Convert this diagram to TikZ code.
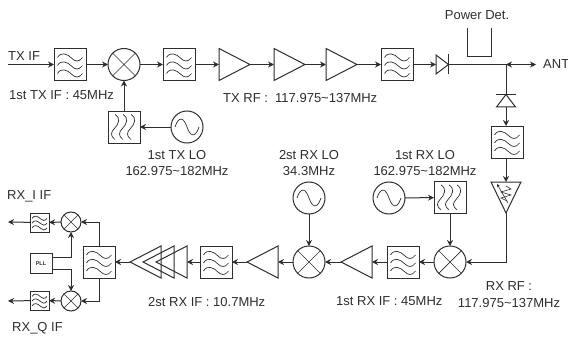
\documentclass[tikz,border=0pt]{standalone}
\usepackage{fontspec}
\setmainfont{Liberation Sans}
\usepackage{xcolor}
\usetikzlibrary{arrows.meta,shapes.geometric}
\definecolor{inkgray}{RGB}{45,45,45}
\newcommand{\wavepath}{
  \foreach \wy in {-8,0,8}
    \draw[line width=0.7pt] (-12.5,\wy+1) .. controls (-9,\wy-5) and (-3,\wy-3) .. (2,\wy+2)
      .. controls (5,\wy+5) and (9,\wy+6) .. (12.5,\wy+1);
}
\newcommand{\wavepathv}{
  \foreach \wy in {-8,0,8}
    \draw[line width=0.7pt] (\wy-1,-12.5) .. controls (\wy+5,-9) and (\wy+3,-3) .. (\wy-2,2)
      .. controls (\wy-5,5) and (\wy-6,9) .. (\wy-1,12.5);
}
\tikzset{
  lbl/.style={font=\fontsize{13}{16.5}\selectfont, text=inkgray, align=center, inner sep=0pt},
  filterbox/.style={rectangle, draw=inkgray, line width=1pt, minimum size=#1 pt, inner sep=0pt, outer sep=0pt,
    path picture={\begin{scope}[shift={(path picture bounding box.center)}, x=#1/32*1pt, y=-#1/32*1pt]\wavepath\end{scope}}},
  lofilter/.style={rectangle, draw=inkgray, line width=1pt, minimum size=32pt, inner sep=0pt, outer sep=0pt,
    path picture={\begin{scope}[shift={(path picture bounding box.center)}, x=1pt, y=-1pt]\wavepathv\end{scope}}},
  mixer/.style={circle, draw=inkgray, line width=1pt, minimum size=#1 pt, inner sep=0pt, outer sep=0pt,
    path picture={\draw[line width=0.7pt] (path picture bounding box.south west) -- (path picture bounding box.north east)
      (path picture bounding box.north west) -- (path picture bounding box.south east);}},
  mixer/.default=32,
  osc/.style={circle, draw=inkgray, line width=1pt, minimum size=32pt, inner sep=0pt, outer sep=0pt,
    path picture={\draw[shift={(path picture bounding box.center)}, x=1pt, y=1pt, line width=0.7pt]
      (-12,0) .. controls (-8,12) and (-3,9) .. (0,0) .. controls (3,-9) and (8,-12) .. (12,0);}},
  amp/.style={isosceles triangle, isosceles triangle stretches, draw=inkgray, line width=1pt, shape border rotate=#1,
    minimum width=32pt, minimum height=31pt, inner sep=0pt, outer sep=0pt},
  amp/.default=0,
  diode/.style={isosceles triangle, isosceles triangle stretches, draw=inkgray, line width=1pt, shape border rotate=#1,
    minimum width=19pt, minimum height=12.5pt, inner sep=0pt, outer sep=0pt},
  pllbox/.style={rectangle, draw=inkgray, line width=1pt, minimum width=22pt, minimum height=19.5pt, inner sep=0pt, outer sep=0pt,
    font=\fontsize{5.5}{6}\selectfont\bfseries, text=inkgray},
  sig/.style={draw=inkgray, line width=1pt, -{Stealth[length=6pt,width=6pt]}},
  wire/.style={draw=inkgray, line width=1pt},
}

\begin{document}
\begin{tikzpicture}[x=1pt, y=-1pt]
\useasboundingbox (0,0) rectangle (568,337);

\node[lbl, anchor=west] (txif) at (8, 56) {TX IF};
\coordinate (txin) at (8, 64.5);
\node[filterbox=32] (txfa) at (70, 64.5) {};
\node[mixer] (txmix) at (124, 64.5) {};
\node[filterbox=32] (txfb) at (179, 64.5) {};
\node[amp, anchor=lower side] (txampa) at (219, 64.5) {};
\node[amp, anchor=lower side] (txampb) at (274, 64.5) {};
\node[amp, anchor=lower side] (txampc) at (326, 64.5) {};
\node[filterbox=32] (txfc) at (397, 64.5) {};
\node[diode=0, anchor=lower side] (txdio) at (436, 64.5) {};
\coordinate (jct) at (506, 64.5);
\node[lbl, anchor=west] (ant) at (543, 64.5) {ANT};
\node[lofilter] (txlof) at (124, 127) {};
\node[osc] (txosc) at (187, 127) {};

\draw[sig] (txin) -- (txfa);
\draw[sig] (txfa) -- (txmix);
\draw[sig] (txmix) -- (txfb);
\draw[sig] (txfb) -- (txampa.lower side);
\draw[sig] (txampa.apex) -- (txampb.lower side);
\draw[sig] (txampb.apex) -- (txampc.lower side);
\draw[sig] (txampc.apex) -- (txfc);
\draw[sig] (txfc) -- (txdio.lower side);
\draw[wire] (txdio.apex) ++(0,-10) -- ++(0,20);
\draw[wire] (txdio.apex) -- (jct);
\draw[sig, {Stealth[length=6pt,width=6pt]}-{Stealth[length=6pt,width=6pt]}, shorten >=7pt] (jct) -- (ant);
\draw[sig] (txosc) -- (txlof);
\draw[sig] (txlof) -- (txmix);

\node[lbl, anchor=west] (txiflbl) at (9, 95) {1st TX IF : 45MHz};
\node[lbl, anchor=west] (txrflbl) at (223, 98) {TX RF :\ \ 117.975\textasciitilde137MHz};
\node[lbl] (txlolbl) at (177, 163) {1st TX LO\\162.975\textasciitilde182MHz};

\node[lbl] (pdetlbl) at (477, 15) {Power Det.};
\draw[wire] (467, 28) |- (491, 57) -- (491, 28);

\node[diode=90, anchor=lower side] (rxdio) at (506, 107) {};
\node[filterbox=32] (rxfa) at (507, 142) {};
\node[amp=270, anchor=lower side, minimum width=30pt] (rxatt) at (506, 182) {};
\node[mixer] (rxmixa) at (450, 262) {};
\node[lofilter] (rxlof) at (450, 197.5) {};
\node[osc] (rxosca) at (389, 198) {};
\node[filterbox=32] (rxfb) at (403, 262) {};
\node[amp=180, anchor=lower side] (rxampa) at (372, 262) {};
\node[mixer] (rxmixb) at (309, 262) {};
\node[osc] (rxoscb) at (309, 198) {};
\node[amp=180, anchor=lower side] (rxampb) at (278, 262) {};
\node[filterbox=32] (rxfc) at (216, 262) {};
\node[amp=180, anchor=lower side] (rxampe) at (187, 262) {};
\node[amp=180, anchor=lower side] (rxampd) at (174, 262) {};
\node[amp=180, anchor=lower side] (rxampc) at (161, 262) {};
\node[filterbox=32] (rxfd) at (99, 262) {};
\node[mixer=20] (imix) at (71, 222) {};
\node[mixer=20] (qmix) at (71, 301) {};
\node[filterbox=19] (ifil) at (39.5, 222.5) {};
\node[filterbox=19] (qfil) at (39.5, 300.5) {};
\node[pllbox] (pll) at (41, 263.5) {PLL};
\coordinate (iout) at (8, 222);
\coordinate (qout) at (8, 301);

\draw[wire] (jct) -- (rxdio.apex);
\draw[wire] (rxdio.apex) ++(-10,0) -- ++(20,0);
\draw[sig] (rxdio.lower side) -- (506, 126);
\draw[sig] (506, 158) -- (rxatt.lower side);
\draw[sig] (rxatt.apex) |- (rxmixa);
\draw[line width=0.6pt, draw=inkgray, -{Stealth[length=3pt,width=3pt]}] (508, 203) -- (497, 184);
\draw[line width=0.6pt, draw=inkgray] (506, 186) -- (511, 189) -- (501, 192) -- (511, 195) -- (501, 198) -- (507, 201);
\draw[sig] (rxosca) -- (rxlof);
\draw[sig] (rxlof) -- (rxmixa);
\draw[sig] (rxmixa) -- (rxfb);
\draw[sig] (rxfb) -- (rxampa.lower side);
\draw[sig] (rxampa.apex) -- (rxmixb);
\draw[sig] (rxoscb) -- (rxmixb);
\draw[sig] (rxmixb) -- (rxampb.lower side);
\draw[sig] (rxampb.apex) -- (rxfc);
\draw[sig] (rxfc) -- (rxampe.lower side);
\draw[sig] (rxampc.apex) -- (rxfd);
\draw[sig] (rxfd.north) |- (imix);
\draw[sig] (rxfd.south) |- (qmix);
\draw[sig] (imix) -- (ifil);
\draw[sig] (qmix) -- (qfil);
\draw[sig] (ifil) -- (iout);
\draw[sig] (qfil) -- (qout);
\draw[sig] (pll.east |- 0, 257) -| (imix);
\draw[sig] (pll.east |- 0, 269) -| (qmix);

\node[lbl] (rxlolbla) at (425, 163) {1st RX LO\\162.975\textasciitilde182MHz};
\node[lbl] (rxlolblb) at (309, 163) {2st RX LO\\34.3MHz};
\node[lbl] (rxrflbl) at (509, 294.5) {RX RF :\\117.975\textasciitilde137MHz};
\node[lbl, anchor=west] (rxiflbla) at (336, 301) {1st RX IF : 45MHz};
\node[lbl, anchor=west] (rxiflblb) at (148, 302) {2st RX IF : 10.7MHz};
\node[lbl, anchor=west] (ilbl) at (7, 196) {RX\_I IF};
\node[lbl, anchor=west] (qlbl) at (12, 328) {RX\_Q IF};

\end{tikzpicture}
\end{document}
